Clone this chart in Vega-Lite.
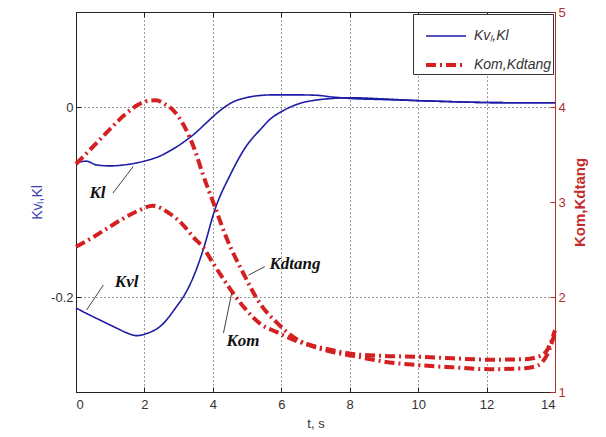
{
  "$schema": "https://vega.github.io/schema/vega-lite/v6.json",
  "width": 479,
  "height": 380,
  "autosize": {"type": "none"},
  "padding": {"left": 76, "top": 12, "right": 51, "bottom": 45},
  "background": "white",
  "config": {
    "view": {"stroke": "#222", "strokeWidth": 1},
    "axis": {
      "labelFont": "Liberation Sans", "titleFont": "Liberation Sans",
      "labelFontSize": 13, "titleFontSize": 13, "titleFontWeight": "normal",
      "labelColor": "#333", "titleColor": "#333", "domainColor": "#222", "tickColor": "#222",
      "gridColor": "#222", "gridDash": [1, 3], "gridOpacity": 0.9,
      "tickSize": -5, "labelPadding": 8
    },
    "legend": {
      "orient": "top-right", "offset": 2, "strokeColor": "#333", "fillColor": "white",
      "padding": 1, "labelFont": "Liberation Sans", "labelFontSize": 14, "labelFontStyle": "italic",
      "labelColor": "#333", "symbolType": "stroke", "symbolSize": 1600, "rowPadding": -3, "title": null,
      "labelOffset": 6, "symbolOffset": 10
    }
  },
  "datasets": {
    "blue": [
      {"s": "Kl", "g": "Kvₗ,Kl", "t": 0, "v": -0.059},
      {"s": "Kl", "g": "Kvₗ,Kl", "t": 0.3, "v": -0.057},
      {"s": "Kl", "g": "Kvₗ,Kl", "t": 0.6, "v": -0.061},
      {"s": "Kl", "g": "Kvₗ,Kl", "t": 1.0, "v": -0.062},
      {"s": "Kl", "g": "Kvₗ,Kl", "t": 1.4, "v": -0.061},
      {"s": "Kl", "g": "Kvₗ,Kl", "t": 1.75, "v": -0.059},
      {"s": "Kl", "g": "Kvₗ,Kl", "t": 2.1, "v": -0.056},
      {"s": "Kl", "g": "Kvₗ,Kl", "t": 2.43, "v": -0.052},
      {"s": "Kl", "g": "Kvₗ,Kl", "t": 2.8, "v": -0.045},
      {"s": "Kl", "g": "Kvₗ,Kl", "t": 3.22, "v": -0.035},
      {"s": "Kl", "g": "Kvₗ,Kl", "t": 3.5, "v": -0.027},
      {"s": "Kl", "g": "Kvₗ,Kl", "t": 3.8, "v": -0.017},
      {"s": "Kl", "g": "Kvₗ,Kl", "t": 4.2, "v": -0.004},
      {"s": "Kl", "g": "Kvₗ,Kl", "t": 4.6, "v": 0.0055},
      {"s": "Kl", "g": "Kvₗ,Kl", "t": 5.0, "v": 0.010},
      {"s": "Kl", "g": "Kvₗ,Kl", "t": 5.4, "v": 0.0122},
      {"s": "Kl", "g": "Kvₗ,Kl", "t": 5.8, "v": 0.0128},
      {"s": "Kl", "g": "Kvₗ,Kl", "t": 6.4, "v": 0.0128},
      {"s": "Kl", "g": "Kvₗ,Kl", "t": 7.0, "v": 0.0124},
      {"s": "Kl", "g": "Kvₗ,Kl", "t": 7.5, "v": 0.0105},
      {"s": "Kl", "g": "Kvₗ,Kl", "t": 8.0, "v": 0.009},
      {"s": "Kl", "g": "Kvₗ,Kl", "t": 9.0, "v": 0.0078},
      {"s": "Kl", "g": "Kvₗ,Kl", "t": 10.0, "v": 0.0067},
      {"s": "Kl", "g": "Kvₗ,Kl", "t": 11.0, "v": 0.0056},
      {"s": "Kl", "g": "Kvₗ,Kl", "t": 12.0, "v": 0.0047},
      {"s": "Kl", "g": "Kvₗ,Kl", "t": 13.0, "v": 0.0045},
      {"s": "Kl", "g": "Kvₗ,Kl", "t": 14.0, "v": 0.0045},
      {"s": "Kvl", "g": "Kvₗ,Kl", "t": 0, "v": -0.2116},
      {"s": "Kvl", "g": "Kvₗ,Kl", "t": 0.4, "v": -0.219},
      {"s": "Kvl", "g": "Kvₗ,Kl", "t": 0.8, "v": -0.226},
      {"s": "Kvl", "g": "Kvₗ,Kl", "t": 1.2, "v": -0.233},
      {"s": "Kvl", "g": "Kvₗ,Kl", "t": 1.5, "v": -0.238},
      {"s": "Kvl", "g": "Kvₗ,Kl", "t": 1.77, "v": -0.2407},
      {"s": "Kvl", "g": "Kvₗ,Kl", "t": 2.1, "v": -0.238},
      {"s": "Kvl", "g": "Kvₗ,Kl", "t": 2.46, "v": -0.231},
      {"s": "Kvl", "g": "Kvₗ,Kl", "t": 2.94, "v": -0.21},
      {"s": "Kvl", "g": "Kvₗ,Kl", "t": 3.2, "v": -0.196},
      {"s": "Kvl", "g": "Kvₗ,Kl", "t": 3.43, "v": -0.179},
      {"s": "Kvl", "g": "Kvₗ,Kl", "t": 3.72, "v": -0.150},
      {"s": "Kvl", "g": "Kvₗ,Kl", "t": 4.06, "v": -0.108},
      {"s": "Kvl", "g": "Kvₗ,Kl", "t": 4.5, "v": -0.072},
      {"s": "Kvl", "g": "Kvₗ,Kl", "t": 5.0, "v": -0.040},
      {"s": "Kvl", "g": "Kvₗ,Kl", "t": 5.38, "v": -0.024},
      {"s": "Kvl", "g": "Kvₗ,Kl", "t": 5.67, "v": -0.013},
      {"s": "Kvl", "g": "Kvₗ,Kl", "t": 6.1, "v": -0.003},
      {"s": "Kvl", "g": "Kvₗ,Kl", "t": 6.55, "v": 0.0039},
      {"s": "Kvl", "g": "Kvₗ,Kl", "t": 7.0, "v": 0.0072},
      {"s": "Kvl", "g": "Kvₗ,Kl", "t": 7.5, "v": 0.009},
      {"s": "Kvl", "g": "Kvₗ,Kl", "t": 8.0, "v": 0.0098},
      {"s": "Kvl", "g": "Kvₗ,Kl", "t": 9.0, "v": 0.0085},
      {"s": "Kvl", "g": "Kvₗ,Kl", "t": 10.0, "v": 0.0067},
      {"s": "Kvl", "g": "Kvₗ,Kl", "t": 11.0, "v": 0.0056},
      {"s": "Kvl", "g": "Kvₗ,Kl", "t": 12.0, "v": 0.0047},
      {"s": "Kvl", "g": "Kvₗ,Kl", "t": 13.0, "v": 0.0045},
      {"s": "Kvl", "g": "Kvₗ,Kl", "t": 14.0, "v": 0.0045}
    ],
    "red": [
      {"s": "Kdtang", "g": "Kom,Kdtang", "t": 0, "v": 3.40},
      {"s": "Kdtang", "g": "Kom,Kdtang", "t": 0.3, "v": 3.51},
      {"s": "Kdtang", "g": "Kom,Kdtang", "t": 0.68, "v": 3.65},
      {"s": "Kdtang", "g": "Kom,Kdtang", "t": 1.0, "v": 3.77},
      {"s": "Kdtang", "g": "Kom,Kdtang", "t": 1.46, "v": 3.93},
      {"s": "Kdtang", "g": "Kom,Kdtang", "t": 1.8, "v": 4.02},
      {"s": "Kdtang", "g": "Kom,Kdtang", "t": 2.05, "v": 4.06},
      {"s": "Kdtang", "g": "Kom,Kdtang", "t": 2.34, "v": 4.07},
      {"s": "Kdtang", "g": "Kom,Kdtang", "t": 2.6, "v": 4.03},
      {"s": "Kdtang", "g": "Kom,Kdtang", "t": 2.83, "v": 3.97},
      {"s": "Kdtang", "g": "Kom,Kdtang", "t": 3.1, "v": 3.84},
      {"s": "Kdtang", "g": "Kom,Kdtang", "t": 3.31, "v": 3.69},
      {"s": "Kdtang", "g": "Kom,Kdtang", "t": 3.5, "v": 3.52},
      {"s": "Kdtang", "g": "Kom,Kdtang", "t": 3.7, "v": 3.30},
      {"s": "Kdtang", "g": "Kom,Kdtang", "t": 4.06, "v": 2.95},
      {"s": "Kdtang", "g": "Kom,Kdtang", "t": 4.4, "v": 2.62},
      {"s": "Kdtang", "g": "Kom,Kdtang", "t": 4.89, "v": 2.25},
      {"s": "Kdtang", "g": "Kom,Kdtang", "t": 5.38, "v": 1.93},
      {"s": "Kdtang", "g": "Kom,Kdtang", "t": 5.87, "v": 1.73},
      {"s": "Kdtang", "g": "Kom,Kdtang", "t": 6.35, "v": 1.58},
      {"s": "Kdtang", "g": "Kom,Kdtang", "t": 7.0, "v": 1.47},
      {"s": "Kdtang", "g": "Kom,Kdtang", "t": 7.5, "v": 1.42},
      {"s": "Kdtang", "g": "Kom,Kdtang", "t": 8.1, "v": 1.38},
      {"s": "Kdtang", "g": "Kom,Kdtang", "t": 9.0, "v": 1.32},
      {"s": "Kdtang", "g": "Kom,Kdtang", "t": 10.1, "v": 1.28},
      {"s": "Kdtang", "g": "Kom,Kdtang", "t": 11.0, "v": 1.26},
      {"s": "Kdtang", "g": "Kom,Kdtang", "t": 12.1, "v": 1.24},
      {"s": "Kdtang", "g": "Kom,Kdtang", "t": 13.1, "v": 1.25},
      {"s": "Kdtang", "g": "Kom,Kdtang", "t": 13.5, "v": 1.28},
      {"s": "Kdtang", "g": "Kom,Kdtang", "t": 13.75, "v": 1.38},
      {"s": "Kdtang", "g": "Kom,Kdtang", "t": 14.0, "v": 1.62},
      {"s": "Kom", "g": "Kom,Kdtang", "t": 0, "v": 2.53},
      {"s": "Kom", "g": "Kom,Kdtang", "t": 0.5, "v": 2.63},
      {"s": "Kom", "g": "Kom,Kdtang", "t": 0.99, "v": 2.74},
      {"s": "Kom", "g": "Kom,Kdtang", "t": 1.4, "v": 2.83},
      {"s": "Kom", "g": "Kom,Kdtang", "t": 1.77, "v": 2.90},
      {"s": "Kom", "g": "Kom,Kdtang", "t": 2.25, "v": 2.96},
      {"s": "Kom", "g": "Kom,Kdtang", "t": 2.73, "v": 2.88},
      {"s": "Kom", "g": "Kom,Kdtang", "t": 3.1, "v": 2.77},
      {"s": "Kom", "g": "Kom,Kdtang", "t": 3.43, "v": 2.63},
      {"s": "Kom", "g": "Kom,Kdtang", "t": 3.72, "v": 2.52},
      {"s": "Kom", "g": "Kom,Kdtang", "t": 4.0, "v": 2.36},
      {"s": "Kom", "g": "Kom,Kdtang", "t": 4.4, "v": 2.14},
      {"s": "Kom", "g": "Kom,Kdtang", "t": 4.89, "v": 1.90},
      {"s": "Kom", "g": "Kom,Kdtang", "t": 5.38, "v": 1.72},
      {"s": "Kom", "g": "Kom,Kdtang", "t": 5.87, "v": 1.63},
      {"s": "Kom", "g": "Kom,Kdtang", "t": 6.5, "v": 1.53},
      {"s": "Kom", "g": "Kom,Kdtang", "t": 7.0, "v": 1.48},
      {"s": "Kom", "g": "Kom,Kdtang", "t": 7.5, "v": 1.44},
      {"s": "Kom", "g": "Kom,Kdtang", "t": 8.1, "v": 1.40},
      {"s": "Kom", "g": "Kom,Kdtang", "t": 9.0, "v": 1.38},
      {"s": "Kom", "g": "Kom,Kdtang", "t": 10.1, "v": 1.37},
      {"s": "Kom", "g": "Kom,Kdtang", "t": 11.0, "v": 1.355},
      {"s": "Kom", "g": "Kom,Kdtang", "t": 12.1, "v": 1.34},
      {"s": "Kom", "g": "Kom,Kdtang", "t": 13.1, "v": 1.345},
      {"s": "Kom", "g": "Kom,Kdtang", "t": 13.5, "v": 1.37},
      {"s": "Kom", "g": "Kom,Kdtang", "t": 13.75, "v": 1.43},
      {"s": "Kom", "g": "Kom,Kdtang", "t": 14.0, "v": 1.65}
    ],
    "blueLabels": [
      {"lab": "Kl", "t": 0.63, "v": -0.090, "t2": 1.08, "v2": -0.0906, "t3": 1.67, "v3": -0.0628},
      {"lab": "Kvl", "t": 1.48, "v": -0.1847, "t2": 0.8, "v2": -0.1874, "t3": 0.31, "v3": -0.2137}
    ],
    "redLabels": [
      {"lab": "Kdtang", "t": 6.40, "v": 2.35, "t2": 5.52, "v2": 2.32, "t3": 5.04, "v3": 2.23},
      {"lab": "Kom", "t": 4.88, "v": 1.54, "t2": 4.31, "v2": 1.62, "t3": 4.55, "v3": 2.04}
    ]
  },
  "layer": [
    {
      "encoding": {
        "x": {"field": "t", "type": "quantitative", "scale": {"domain": [0, 14], "nice": false},
              "axis": {"orient": "bottom", "values": [0, 2, 4, 6, 8, 10, 12, 14], "grid": true, "title": "t, s",
                       "titlePadding": 6, "labelPadding": 11}},
        "y": {"field": "v", "type": "quantitative", "scale": {"domain": [-0.3, 0.1], "nice": false},
              "axis": {"orient": "left", "values": [-0.2, 0], "grid": true, "title": "Kvₗ,Kl", "titleColor": "#3c3cae",
                       "titleFontSize": 14, "titlePadding": 6, "labelExpr": "datum.value === 0 ? '0' : '-0.2'"}}
      },
      "layer": [
        {
          "data": {"name": "blue"},
          "mark": {"type": "line", "interpolate": "monotone"},
          "encoding": {
            "detail": {"field": "s"},
            "color": {"field": "g", "type": "nominal", "scale": {"domain": ["Kvₗ,Kl", "Kom,Kdtang"], "range": ["#1c1ca6", "#d42020"]}},
            "strokeDash": {"field": "g", "type": "nominal", "scale": {"domain": ["Kvₗ,Kl", "Kom,Kdtang"], "range": [[1, 0], [10, 4, 2, 4]]}},
            "strokeWidth": {"field": "g", "type": "ordinal", "scale": {"domain": ["Kvₗ,Kl", "Kom,Kdtang"], "range": [1.6, 4]}}
          }
        },
        {
          "data": {"name": "blueLabels"},
          "mark": {"type": "text", "font": "Liberation Serif", "fontSize": 17, "fontWeight": "bold", "fontStyle": "italic", "color": "#111"},
          "encoding": {"text": {"field": "lab"}}
        },
        {
          "data": {"name": "blueLabels"},
          "mark": {"type": "rule", "color": "#111", "strokeWidth": 0.8},
          "encoding": {
            "x": {"field": "t2", "type": "quantitative"},
            "y": {"field": "v2", "type": "quantitative"},
            "x2": {"field": "t3"},
            "y2": {"field": "v3"}
          }
        }
      ]
    },
    {
      "encoding": {
        "x": {"field": "t", "type": "quantitative", "scale": {"domain": [0, 14], "nice": false},
              "axis": {"orient": "top", "values": [2, 4, 6, 8, 10, 12], "grid": false, "title": null,
                       "labels": false, "domain": false}},
        "y": {"field": "v", "type": "quantitative", "scale": {"domain": [1, 5], "nice": false},
              "axis": {"orient": "right", "values": [1, 2, 3, 4, 5], "grid": false, "title": "Kom,Kdtang",
                       "titleColor": "#c42a2a", "titleFontWeight": "bold", "titleFontSize": 15, "titleAngle": 270,
                       "labelColor": "#b03030", "domainColor": "#b03030", "tickColor": "#b03030", "titlePadding": 22}}
      },
      "layer": [
        {
          "data": {"name": "red"},
          "mark": {"type": "line", "interpolate": "monotone"},
          "encoding": {
            "detail": {"field": "s"},
            "color": {"field": "g", "type": "nominal", "scale": {"domain": ["Kvₗ,Kl", "Kom,Kdtang"], "range": ["#1c1ca6", "#d42020"]}},
            "strokeDash": {"field": "g", "type": "nominal", "scale": {"domain": ["Kvₗ,Kl", "Kom,Kdtang"], "range": [[1, 0], [10, 4, 2, 4]]}},
            "strokeWidth": {"field": "g", "type": "ordinal", "scale": {"domain": ["Kvₗ,Kl", "Kom,Kdtang"], "range": [1.6, 4]}}
          }
        },
        {
          "data": {"name": "redLabels"},
          "mark": {"type": "text", "font": "Liberation Serif", "fontSize": 17, "fontWeight": "bold", "fontStyle": "italic", "color": "#111"},
          "encoding": {"text": {"field": "lab"}}
        },
        {
          "data": {"name": "redLabels"},
          "mark": {"type": "rule", "color": "#111", "strokeWidth": 0.8},
          "encoding": {
            "x": {"field": "t2", "type": "quantitative"},
            "y": {"field": "v2", "type": "quantitative"},
            "x2": {"field": "t3"},
            "y2": {"field": "v3"}
          }
        }
      ]
    }
  ],
  "resolve": {"scale": {"y": "independent"}}
}
